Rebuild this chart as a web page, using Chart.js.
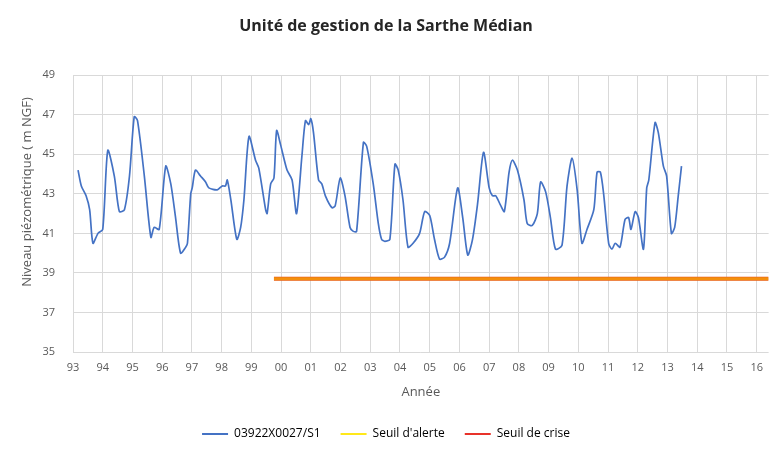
<!DOCTYPE html>
<html lang="fr">
<head>
<meta charset="utf-8">
<title>Unité de gestion de la Sarthe Médian</title>
<script src="https://cdn.jsdelivr.net/npm/chart.js@4.4.1/dist/chart.umd.min.js"></script>
<style>
  html, body { margin: 0; padding: 0; background: #fff; }
  #cadre { width: 772px; height: 450px; }
</style>
</head>
<body>
<div id="cadre"><canvas id="graphique" width="772" height="450"></canvas></div>
<script>
// Piézomètre 03922X0027/S1
const annees = [1993.17,1993.28,1993.44,1993.56,1993.67,1993.84,1994.00,1994.17,1994.39,1994.56,1994.73,1994.90,
  1995.06,1995.17,1995.40,1995.62,1995.73,1995.90,1996.12,1996.29,1996.45,1996.62,1996.79,1996.85,1996.96,
  1997.01,1997.12,1997.29,1997.46,1997.57,1997.85,1998.02,1998.13,1998.19,1998.31,1998.51,1998.64,1998.75,1998.92,
  1999.14,1999.25,1999.48,1999.53,1999.65,1999.76,1999.85,1999.98,2000.20,2000.37,2000.52,2000.70,2000.82,2000.93,
  2001.00,2001.09,2001.26,2001.37,2001.49,2001.71,2001.82,2001.99,2002.15,2002.32,2002.43,2002.54,2002.77,2002.88,
  2003.10,2003.27,2003.38,2003.49,2003.66,2003.83,2003.94,2004.10,2004.27,2004.44,2004.66,2004.83,2005.00,2005.16,
  2005.33,2005.50,2005.67,2005.94,2006.11,2006.28,2006.44,2006.61,2006.81,2007.00,2007.11,2007.22,2007.39,2007.51,
  2007.67,2007.78,2007.95,2008.17,2008.28,2008.45,2008.62,2008.73,2008.90,2009.06,2009.23,2009.45,2009.62,2009.79,
  2009.96,2010.12,2010.29,2010.52,2010.63,2010.74,2010.85,2011.02,2011.13,2011.24,2011.40,2011.57,2011.69,2011.77,
  2011.91,2012.02,2012.19,2012.30,2012.37,2012.58,2012.69,2012.86,2012.97,2013.13,2013.24,2013.36,2013.47];
const niveaux = [44.2,43.4,42.9,42.2,40.5,41.0,41.2,45.2,43.9,42.1,42.2,43.9,
  46.9,46.7,43.9,40.8,41.3,41.2,44.4,43.5,41.8,40.0,40.3,40.5,43.0,
  43.3,44.2,43.9,43.6,43.3,43.2,43.4,43.4,43.7,42.7,40.7,41.3,42.7,45.9,
  44.7,44.3,42.2,42.0,43.5,43.8,46.2,45.5,44.2,43.7,42.0,44.9,46.7,46.5,
  46.8,46.1,43.7,43.5,42.9,42.3,42.4,43.8,42.9,41.3,41.1,41.1,45.6,45.4,
  43.5,41.5,40.7,40.6,40.7,44.5,44.2,42.7,40.3,40.5,41.0,42.1,41.9,40.7,
  39.7,39.8,40.5,43.3,41.8,39.9,40.7,42.5,45.1,43.3,42.9,42.9,42.4,42.1,
  44.1,44.7,44.2,42.7,41.5,41.4,42.0,43.6,43.1,41.8,40.2,40.4,43.4,44.8,
  43.2,40.5,41.2,42.2,44.1,44.1,43.0,40.5,40.2,40.5,40.3,41.7,41.8,41.2,
  42.1,41.8,40.2,43.3,43.7,46.6,46.1,44.4,43.9,41.0,41.3,42.9,44.4];

// Seuils
const seuilAnnees = [1999.76, 2016.4];
const seuilAlerte = [38.7, 38.7];
const seuilCrise = [38.7, 38.7];

// Axes
const anneesAxe = [1993,1994,1995,1996,1997,1998,1999,2000,2001,2002,2003,2004,2005,2006,2007,2008,2009,2010,2011,2012,2013,2014,2015,2016];
const etiquettesX = ['93','94','95','96','97','98','99','00','01','02','03','04','05','06','07','08','09','10','11','12','13','14','15','16'];
const nomsSeries = ['03922X0027/S1', "Seuil d'alerte", 'Seuil de crise'];
const couleursLegende = ['#4472C4', '#FFE81A', '#E8322A'];

const police = "'Open Sans', 'Liberation Sans', sans-serif";
const gris = '#595959';

// titre de l'axe vertical, placé à la main comme dans Excel
const titreAxeY = {
  id: 'titreAxeY',
  afterDraw(chart) {
    const ctx = chart.ctx;
    ctx.save();
    ctx.translate(27, 192);
    ctx.rotate(-Math.PI / 2);
    ctx.font = '13px ' + police;
    ctx.fillStyle = gris;
    ctx.textAlign = 'center';
    ctx.textBaseline = 'middle';
    ctx.fillText('Niveau piézométrique ( m NGF)', 0, 0);
    ctx.restore();
  }
};

const ctx = document.getElementById('graphique').getContext('2d');
new Chart(ctx, {
  type: 'line',
  data: {
    datasets: [
      {
        label: nomsSeries[0],
        data: annees.map((a, i) => ({ x: a, y: niveaux[i] })),
        borderColor: '#4472C4',
        borderWidth: 1.7,
        pointRadius: 0,
        tension: 0.25
      },
      {
        label: nomsSeries[1],
        data: seuilAnnees.map((a, i) => ({ x: a, y: seuilAlerte[i] })),
        borderColor: 'rgba(255, 205, 0, 0.5)',
        borderWidth: 3,
        pointRadius: 0
      },
      {
        label: nomsSeries[2],
        data: seuilAnnees.map((a, i) => ({ x: a, y: seuilCrise[i] })),
        borderColor: '#E6501A',
        borderWidth: 4,
        pointRadius: 0
      }
    ]
  },
  options: {
    responsive: false,
    animation: false,
    layout: { padding: 0 },
    plugins: {
      title: {
        display: true,
        text: 'Unité de gestion de la Sarthe Médian',
        color: '#262626',
        font: { family: police, size: 16, weight: 'bold' },
        padding: { top: 17, bottom: 39 }
      },
      legend: {
        position: 'bottom',
        labels: {
          color: gris,
          font: { family: police, size: 12 },
          boxWidth: 26,
          boxHeight: 2,
          padding: 20,
          generateLabels: () => nomsSeries.map((nom, i) => ({
            text: nom,
            fillStyle: couleursLegende[i],
            strokeStyle: couleursLegende[i],
            lineWidth: 0,
            datasetIndex: i
          }))
        }
      },
      tooltip: { enabled: false }
    },
    scales: {
      x: {
        type: 'linear',
        min: 1993,
        max: 2016.4,
        afterBuildTicks: s => { s.ticks = anneesAxe.map(v => ({ value: v })); },
        afterFit: s => { s.height = 56; },
        grid: { color: '#D9D9D9', drawTicks: false },
        border: { display: false },
        ticks: {
          color: gris,
          font: { family: police, size: 11 },
          padding: 9,
          maxRotation: 0,
          autoSkip: false,
          callback: (v, i) => etiquettesX[i]
        },
        title: {
          display: true,
          text: 'Année',
          color: gris,
          font: { family: police, size: 13 },
          padding: { top: 0, bottom: 8 }
        }
      },
      y: {
        min: 35,
        max: 49,
        afterFit: s => { s.width = 73; },
        grid: { color: '#D9D9D9', drawTicks: false },
        border: { display: false },
        ticks: {
          stepSize: 2,
          color: gris,
          font: { family: police, size: 11 },
          padding: 18
        }
      }
    }
  },
  plugins: [titreAxeY]
});
</script>
</body>
</html>
